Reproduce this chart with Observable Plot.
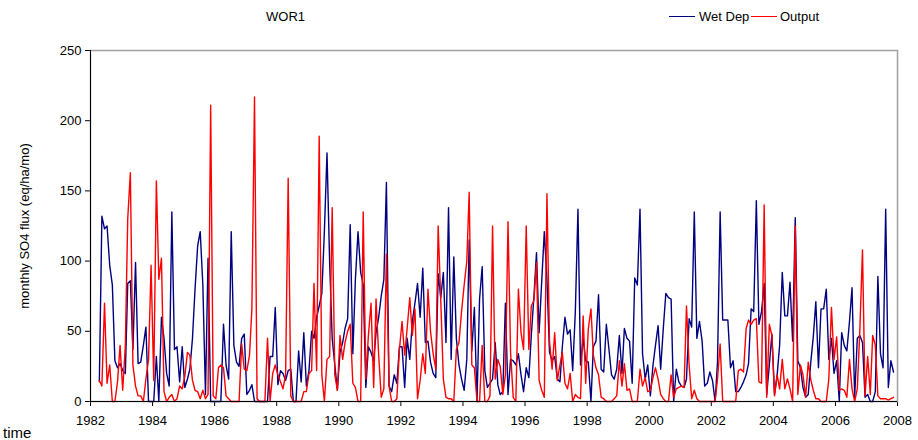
<!DOCTYPE html>
<html>
<head>
<meta charset="utf-8">
<script src="https://cdn.jsdelivr.net/npm/d3@7"></script>
<script src="https://cdn.jsdelivr.net/npm/@observablehq/plot@0.6"></script>
<style>
  body { margin: 0; background: #fff; }
  #wrap { position: relative; width: 918px; height: 440px; font-family: "Liberation Sans", Arial, sans-serif; color: #000; }
  #wrap svg { position: absolute; left: 0; top: 0; }
  .txt { position: absolute; font-size: 13px; white-space: nowrap; line-height: 1; }
  .sw { position: absolute; height: 0; border-top-width: 1.5px; border-top-style: solid; }
</style>
</head>
<body>
<div id="wrap"></div>
<script>
// Monthly series, first value = April 1982, last = November 2007
const startYear = 1982, startMonth = 3; // April (0-based)
const wetDep = [
  14,132,123,125,97,83,29,24,27,22,20,84,
  86,37,99,27,28,40,53,0,0,0,32,0,
  60,45,20,11,135,37,39,14,39,10,16,23,
  45,80,111,121,83,5,102,0,0,0,0,0,
  55,26,16,121,40,28,25,45,48,5,8,12,
  0,0,0,0,0,0,32,32,67,12,22,20,
  15,22,23,0,0,36,14,49,11,22,50,45,
  60,68,77,121,177,99,45,26,8,35,42,52,
  59,126,34,87,121,92,83,10,39,35,29,49,
  60,75,87,156,11,7,19,13,39,39,10,45,
  30,57,70,84,60,95,42,43,28,20,17,91,
  74,92,42,138,30,103,45,26,16,8,30,115,
  36,67,0,73,96,22,10,13,16,42,12,5,
  7,70,5,30,29,26,34,19,7,24,17,47,
  75,106,49,85,121,87,35,29,32,16,14,39,
  60,48,51,22,64,137,26,45,29,28,0,39,
  43,76,23,21,55,37,19,16,23,47,20,52,
  45,43,13,88,83,137,34,16,26,4,26,40,
  54,23,52,77,74,73,0,23,14,11,10,16,
  59,53,135,45,57,43,11,13,21,15,0,28,
  135,58,58,58,24,29,7,7,10,14,19,27,
  66,64,143,55,64,84,5,26,48,5,19,40,
  92,61,61,85,43,131,29,24,10,3,5,27,
  46,71,24,66,66,80,30,45,20,29,0,49,
  40,36,57,81,3,45,47,42,3,5,0,0,
  7,89,34,24,137,10,29,21
];
const output = [
  15,11,70,13,26,0,0,14,40,8,40,130,
  163,26,11,4,4,0,16,30,97,15,157,87,
  102,7,0,3,5,0,2,11,9,18,35,33,
  15,8,7,2,8,2,5,211,4,2,24,26,
  24,4,2,0,0,0,0,41,23,22,33,66,
  217,2,0,0,0,45,0,20,26,19,14,9,
  19,159,4,0,0,0,0,7,7,20,22,84,
  22,189,19,0,30,32,138,19,8,47,30,42,
  50,55,13,10,0,0,135,16,47,70,10,73,
  33,3,9,105,11,0,0,2,37,57,33,52,
  74,47,66,2,15,34,20,80,50,34,23,125,
  71,16,3,2,2,0,37,42,64,83,100,149,
  26,24,0,0,40,0,0,4,125,16,30,25,
  5,19,128,35,3,0,80,49,37,125,37,68,
  72,99,15,8,3,148,43,23,49,15,26,35,
  13,9,20,0,5,3,2,61,13,52,66,33,
  24,19,3,2,0,0,0,2,4,29,11,27,
  8,9,0,0,0,23,11,17,7,8,17,24,
  16,5,2,0,0,19,3,9,10,11,10,68,
  26,2,8,2,0,0,0,0,0,0,0,16,
  41,0,0,0,0,0,0,22,23,21,52,58,
  55,58,59,14,13,140,3,55,47,4,19,9,
  30,9,16,9,0,125,5,26,19,3,28,16,
  8,2,2,0,0,0,16,67,30,46,8,9,
  8,3,30,9,0,9,51,108,4,32,5,47,
  40,4,2,2,2,1,2,3
];
const seriesNames = ["Wet Dep", "Output"];
const seriesColors = ["#000080", "#ff0000"];
const xTickYears = d3.range(1982, 2009, 2);
const yTicks = [0, 50, 100, 150, 200, 250];
const title = "WOR1";
const yLabel = "monthly SO4 flux (eq/ha/mo)";
const xLabel = "time";

const dateOf = i => new Date(Date.UTC(startYear, startMonth + i, 15));
const rows = [];
[wetDep, output].forEach((arr, k) => arr.forEach((v, i) => rows.push({date: dateOf(i), value: v, series: seriesNames[k]})));

const W = 918, H = 440;
const chart = Plot.plot({
  width: W, height: H,
  marginTop: 50, marginBottom: 39, marginLeft: 90, marginRight: 21,
  style: {fontFamily: '"Liberation Sans", Arial, sans-serif', fontSize: "13px", color: "#000", background: "transparent"},
  x: {type: "utc", domain: [new Date(Date.UTC(1982,0,1)), new Date(Date.UTC(2008,0,1))],
      ticks: xTickYears.map(y => new Date(Date.UTC(y,0,1))), tickFormat: d3.utcFormat("%Y"),
      tickSize: 5, tickPadding: 9, label: null},
  y: {domain: [0, 250], ticks: yTicks, tickSize: 5, tickPadding: 4, label: null},
  color: {domain: seriesNames, range: seriesColors},
  marks: [
    Plot.frame({stroke: "#a0a0a0", strokeWidth: 1.5}),
    Plot.line(rows, {x: "date", y: "value", z: "series", stroke: "series", strokeWidth: 1.4, curve: "linear"}),
    Plot.ruleX([0], {x: () => new Date(Date.UTC(1982,0,1)), stroke: "#000", strokeWidth: 1}),
    Plot.ruleY([0], {stroke: "#000", strokeWidth: 1})
  ]
});
const wrap = document.getElementById("wrap");
wrap.appendChild(chart);

function addText(text, left, top, extra = "") {
  const d = document.createElement("div");
  d.className = "txt"; d.textContent = text;
  d.style.cssText += `left:${left}px;top:${top}px;${extra}`;
  wrap.appendChild(d); return d;
}
function addSwatch(color, left, top, width) {
  const d = document.createElement("div");
  d.className = "sw";
  d.style.cssText += `left:${left}px;top:${top}px;width:${width}px;border-top-color:${color}`;
  wrap.appendChild(d);
}
addText(title, 266, 10);
addSwatch(seriesColors[0], 669, 16, 26);
addText(seriesNames[0], 699, 10);
addSwatch(seriesColors[1], 751, 16, 26);
addText(seriesNames[1], 780, 10);
addText(xLabel, 3, 425, "font-size:15px;");
const yl = addText(yLabel, 0, 0);
yl.style.left = "24px"; yl.style.top = "226px";
yl.style.transform = "translate(-50%,-50%) rotate(-90deg)";
</script>
</body>
</html>
